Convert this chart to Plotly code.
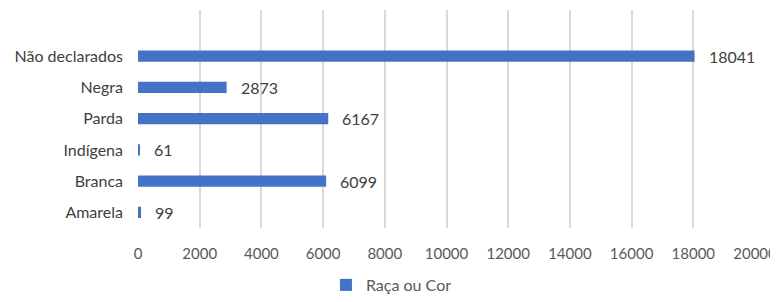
import plotly.graph_objects as go

categories = ["Amarela", "Branca", "Indígena", "Parda", "Negra", "Não declarados"]
values = [99, 6099, 61, 6167, 2873, 18041]
x_ticks = [0, 2000, 4000, 6000, 8000, 10000, 12000, 14000, 16000, 18000, 20000]
x_tick_labels = [str(t) for t in x_ticks]
series_name = "Raça ou Cor"

fig = go.Figure()
fig.add_trace(go.Bar(
    y=categories, x=values, orientation="h", name=series_name,
    marker=dict(color="#4472C4", line=dict(width=0)), width=0.36,
    showlegend=True,
))
for c, v in zip(categories, values):
    fig.add_annotation(x=v, y=c, text=str(v), showarrow=False, xanchor="left",
                       xshift=12, font=dict(size=16, color="#404040"))

# page body has an 8px margin, so the figure is 8px smaller than the window
fig.update_layout(
    width=770, height=294,
    margin=dict(l=129.5, r=23, t=2, b=74, autoexpand=False),
    paper_bgcolor="white", plot_bgcolor="white",
    font=dict(family="Lato, 'Open Sans', sans-serif", size=15, color="#595959"),
    xaxis=dict(range=[0, 20000], tickvals=x_ticks, ticktext=x_tick_labels,
               showgrid=True, gridcolor="#d9d9d9",
               gridwidth=1.5, zeroline=False, showline=False, ticks="",
               tickfont=dict(size=15, color="#595959"), ticklabelstandoff=15,
               automargin=False),
    yaxis=dict(range=[-0.5, 6.48], categoryorder="array", categoryarray=categories,
               showgrid=False, zeroline=False, showline=False, ticks="",
               tickfont=dict(size=16, color="#404040"), ticklabelstandoff=14,
               automargin=False),
    legend=dict(orientation="h", xref="container", x=0.498, xanchor="center",
                yref="container", y=-0.027, yanchor="bottom", itemwidth=30,
                font=dict(size=16, color="#595959")),
    bargap=0.6,
)
fig.write_html("out.html")
